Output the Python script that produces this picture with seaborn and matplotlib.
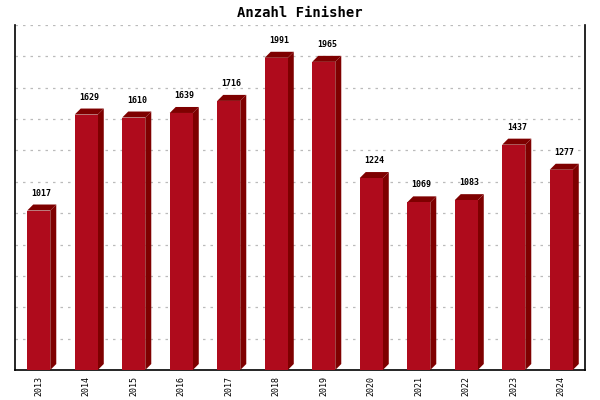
import numpy as np
import pandas as pd
import matplotlib
matplotlib.use("Agg")
import matplotlib.pyplot as plt
from matplotlib.patches import Polygon
import seaborn as sns

years = ["2013", "2014", "2015", "2016", "2017", "2018",
         "2019", "2020", "2021", "2022", "2023", "2024"]
finishers = [1017, 1629, 1610, 1639, 1716, 1991,
             1965, 1224, 1069, 1083, 1437, 1277]

front_color = "#AF0B1C"
dark_color = "#7E0000"

df = pd.DataFrame({"Jahr": years, "Finisher": finishers})

sns.set_theme(style="white")
plt.rcParams["font.family"] = ["DejaVu Sans Mono", "DejaVu Sans"]
plt.rcParams["text.color"] = "black"
plt.rcParams["xtick.color"] = "black"

fig = plt.figure(figsize=(6, 4), dpi=100)
ax = fig.add_axes([0.025, 0.075, 0.95, 0.8625])

sns.barplot(data=df, x="Jahr", y="Finisher", color=front_color,
            width=0.485, saturation=1, linewidth=0, edgecolor="none",
            ax=ax, zorder=3)

ax.set_ylim(0, 2200)
ax.set_xlim(-0.5, len(years) - 0.5)

# 3D side and top faces (depth ~6 px)
px_x = (0.95 * 600) / len(years)
px_y = (0.8625 * 400) / 2200
dx = 6 / px_x
dy = 6 / px_y
for p, val in zip(ax.patches, finishers):
    x0 = p.get_x()
    w = p.get_width()
    h = p.get_height()
    side = Polygon([(x0 + w, 0), (x0 + w + dx, dy), (x0 + w + dx, h + dy), (x0 + w, h)],
                   closed=True, facecolor=dark_color, edgecolor="none", zorder=2.9)
    top = Polygon([(x0, h), (x0 + dx, h + dy), (x0 + w + dx, h + dy), (x0 + w, h)],
                  closed=True, facecolor=dark_color, edgecolor="none", zorder=2.9)
    ax.add_patch(side)
    ax.add_patch(top)
    ax.annotate(str(val), (x0 + w / 2 + dx / 2, h + dy), xytext=(0, 5),
                textcoords="offset points", ha="center", va="bottom",
                fontsize=6, fontweight="bold", color="black")

ax.set_yticks(np.arange(200, 2201, 200))
ax.set_yticklabels([])
ax.yaxis.grid(True, color="#BBBBBB", linestyle=(0, (2, 4)), linewidth=0.9)
ax.tick_params(axis="y", length=0)
ax.tick_params(axis="x", length=0, pad=4, labelsize=6, rotation=90, labelcolor="black")
ax.set_xlabel("")
ax.set_ylabel("")

for side_name in ["left", "bottom", "right"]:
    ax.spines[side_name].set_visible(True)
    ax.spines[side_name].set_color("black")
    ax.spines[side_name].set_linewidth(1.2)
ax.spines["top"].set_visible(False)

fig.suptitle("Anzahl Finisher", y=0.985, fontsize=10, fontweight="bold", color="black")

fig.savefig("out.png", dpi=100)
